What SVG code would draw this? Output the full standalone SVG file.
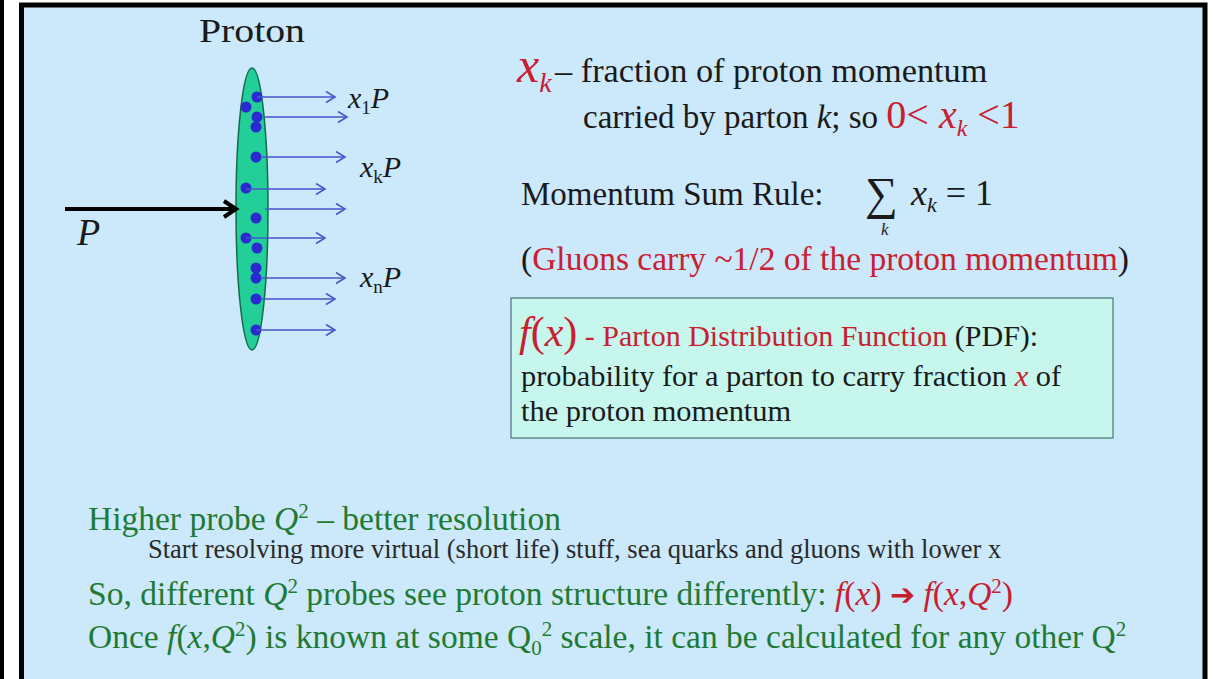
<svg xmlns="http://www.w3.org/2000/svg" width="1213" height="679" viewBox="0 0 1213 679">
<defs>
<style>
text{font-family:"Liberation Serif","Times New Roman",serif;}
.blk{fill:#1a1a1a}
.red{fill:#c8202f}
.grn{fill:#1f7a34}
.it{font-style:italic}
.blue{stroke:#4656cc;stroke-width:1.6;fill:none}
.dot{fill:#2a2ad0}
</style>
<marker id="bh" markerUnits="userSpaceOnUse" markerWidth="12" markerHeight="14" refX="10" refY="6" orient="auto"><path d="M1,0.5 L10,6 L1,11.5" fill="none" stroke="#4656cc" stroke-width="1.6"/></marker>
<marker id="kh" markerUnits="userSpaceOnUse" markerWidth="18" markerHeight="20" refX="14" refY="10" orient="auto"><path d="M2,2 L14,10 L2,18" fill="none" stroke="#000" stroke-width="4"/></marker>
</defs>
<rect width="1213" height="679" fill="#fff"/>
<rect x="0" y="0" width="4" height="679" fill="#000"/>
<rect x="21.5" y="5" width="1183.5" height="700" fill="#cce8fb" stroke="#000" stroke-width="5"/>

<g id="proton">
<text x="199" y="42" font-size="34" textLength="106" lengthAdjust="spacingAndGlyphs" class="blk">Proton</text>
<ellipse cx="252" cy="209" rx="16" ry="141" fill="#22cf98" stroke="#146b4c" stroke-width="1.5"/>
<g class="dot">
<circle cx="257" cy="97" r="5.5"/><circle cx="246" cy="107" r="5.5"/><circle cx="257" cy="117" r="5.5"/><circle cx="256" cy="127" r="5.5"/>
<circle cx="256" cy="157" r="5.5"/><circle cx="246" cy="188" r="5.5"/><circle cx="256" cy="218" r="5.5"/><circle cx="246" cy="238" r="5.5"/>
<circle cx="257" cy="248" r="5.5"/><circle cx="256" cy="268" r="5.5"/><circle cx="256" cy="278" r="5.5"/><circle cx="256" cy="299" r="5.5"/>
<circle cx="256" cy="330" r="5.5"/>
</g>
</g>

<g id="connectors">
<line x1="65" y1="209" x2="236" y2="209" stroke="#000" stroke-width="4" marker-end="url(#kh)"/>
<g class="blue">
<line x1="257" y1="97" x2="335" y2="97" marker-end="url(#bh)"/>
<line x1="265" y1="117" x2="347" y2="117" marker-end="url(#bh)"/>
<line x1="262" y1="157" x2="345" y2="157" marker-end="url(#bh)"/>
<line x1="246" y1="189" x2="325" y2="189" marker-end="url(#bh)"/>
<line x1="265" y1="209" x2="345" y2="209" marker-end="url(#bh)"/>
<line x1="246" y1="238" x2="325" y2="238" marker-end="url(#bh)"/>
<line x1="262" y1="278" x2="345" y2="278" marker-end="url(#bh)"/>
<line x1="262" y1="299" x2="335" y2="299" marker-end="url(#bh)"/>
<line x1="256" y1="330" x2="335" y2="330" marker-end="url(#bh)"/>
</g>
</g>

<g id="labels-left" class="blk">
<text x="77" y="245" font-size="38" class="it">P</text>
<text x="348" y="108" font-size="30"><tspan class="it">x</tspan><tspan font-size="19" dy="6">1</tspan><tspan class="it" dy="-6">P</tspan></text>
<text x="360" y="177" font-size="30"><tspan class="it">x</tspan><tspan font-size="19" dy="6">k</tspan><tspan class="it" dy="-6">P</tspan></text>
<text x="360" y="287" font-size="30"><tspan class="it">x</tspan><tspan font-size="19" dy="6">n</tspan><tspan class="it" dy="-6">P</tspan></text>
</g>

<g id="xk-definition">
<text x="517" y="82" class="red it"><tspan font-size="50">x</tspan><tspan font-size="28" dy="10">k</tspan></text>
<text x="555" y="82" font-size="34.3" class="blk">– fraction of proton momentum</text>
<text x="583" y="128" font-size="33" class="blk">carried by parton <tspan class="it">k</tspan>; so <tspan class="red" font-size="40">0&lt; <tspan class="it">x</tspan><tspan class="it" font-size="24" dy="8">k</tspan><tspan dy="-8"> &lt;1</tspan></tspan></text>
</g>

<g id="sum-rule">
<text x="521" y="205" font-size="33" class="blk">Momentum Sum Rule:</text>
<text x="865" y="209" font-size="46" class="blk">∑</text>
<text x="881" y="235" font-size="17" class="blk it">k</text>
<text x="911" y="205" font-size="36" class="blk"><tspan class="it">x</tspan><tspan class="it" font-size="22" dy="7">k</tspan><tspan dy="-7"> = 1</tspan></text>
<text x="521" y="270" font-size="33.5" class="blk">(<tspan class="red">Gluons carry ~1/2 of the proton momentum</tspan>)</text>
</g>

<g id="pdf-box">
<rect x="511" y="298" width="602" height="140" fill="#c6f6ec" stroke="#5f8f8a" stroke-width="1.5"/>
<text x="519" y="346" font-size="30" class="blk"><tspan class="red it" font-size="42">f</tspan><tspan class="red" font-size="42">(<tspan class="it">x</tspan>)</tspan><tspan class="red"> - Parton Distribution Function</tspan> (PDF):</text>
<text x="521" y="386" font-size="30.4" class="blk">probability for a parton to carry fraction <tspan class="red it">x</tspan> of</text>
<text x="521" y="421" font-size="30.4" class="blk">the proton momentum</text>
</g>

<g id="resolution">
<text x="88" y="530" font-size="33.5" class="grn">Higher probe <tspan class="it">Q</tspan><tspan font-size="21" dy="-12">2</tspan><tspan dy="12"> – better resolution</tspan></text>
<text x="148" y="558" font-size="26.5" fill="#2a2a2a">Start resolving more virtual (short life) stuff, sea quarks and gluons with lower x</text>
<text x="88" y="605" font-size="33.5" class="grn">So, different <tspan class="it">Q</tspan><tspan font-size="21" dy="-12">2</tspan><tspan dy="12"> probes see proton structure differently:  </tspan><tspan class="red"><tspan class="it">f</tspan>(<tspan class="it">x</tspan>) <tspan font-family="DejaVu Sans, sans-serif" font-weight="bold" font-size="30">➔</tspan> <tspan class="it">f</tspan>(<tspan class="it">x</tspan>,<tspan class="it">Q</tspan><tspan font-size="21" dy="-12">2</tspan><tspan dy="12">)</tspan></tspan></text>
<text x="88" y="648" font-size="33.5" class="grn">Once <tspan class="it">f</tspan>(<tspan class="it">x</tspan>,<tspan class="it">Q</tspan><tspan font-size="21" dy="-12">2</tspan><tspan dy="12">) is known at some Q</tspan><tspan font-size="21" dy="7">0</tspan><tspan font-size="21" dy="-19">2</tspan><tspan dy="12"> scale, it can be calculated for any other Q</tspan><tspan font-size="21" dy="-12">2</tspan></text>
</g>
</svg>
